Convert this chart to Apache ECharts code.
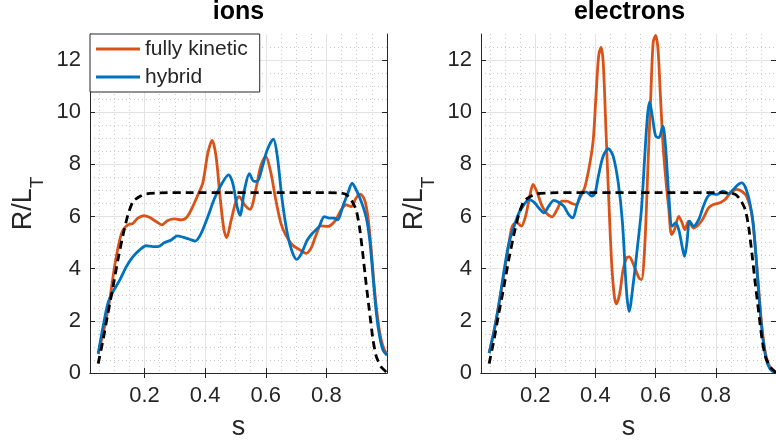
<!DOCTYPE html>
<html>
<head>
<meta charset="utf-8">
<script src="https://cdn.jsdelivr.net/npm/echarts@6/dist/echarts.min.js"></script>
<style>
  html, body { margin: 0; padding: 0; background: #ffffff; }
  #chart { width: 776px; height: 446px; }
</style>
</head>
<body>
<div id="chart"></div>
<script>
// R/L_T profiles along s: [s, R/L_T] pairs
const ionsKinetic = [
  [0.047,0.74],[0.068,1.77],[0.085,2.8],[0.101,4.08],[0.118,5.1],[0.129,5.49],[0.145,5.68],[0.162,5.74],
  [0.178,5.94],[0.198,6.03],[0.216,5.97],[0.238,5.81],[0.257,5.68],[0.277,5.85],[0.299,5.91],[0.321,5.87],
  [0.337,5.94],[0.354,6.26],[0.376,6.83],[0.392,7.28],[0.409,8.44],[0.423,8.92],[0.436,8.3],[0.449,6.77],
  [0.462,5.49],[0.471,5.19],[0.486,5.87],[0.502,6.6],[0.512,6.76],[0.53,6.45],[0.548,6.28],[0.567,7.03],
  [0.583,7.92],[0.6,8.31],[0.617,7.67],[0.633,6.64],[0.65,5.74],[0.666,5.29],[0.688,4.91],[0.71,4.74],
  [0.733,4.59],[0.749,4.78],[0.766,5.29],[0.782,5.64],[0.804,5.62],[0.827,5.81],[0.849,6.26],[0.865,6.45],
  [0.882,6.38],[0.898,6.71],[0.912,6.86],[0.926,6.64],[0.937,6.0],[0.948,4.72],[0.959,3.18],[0.970,2.03],
  [0.981,1.26],[0.992,0.87],[1.0,0.74]
];
const ionsHybrid = [
  [0.047,0.74],[0.063,1.77],[0.079,2.67],[0.096,3.12],[0.118,3.56],[0.14,4.08],[0.162,4.46],[0.184,4.72],
  [0.205,4.88],[0.227,4.85],[0.244,4.85],[0.266,5.0],[0.288,5.1],[0.308,5.26],[0.326,5.21],[0.348,5.13],
  [0.367,5.06],[0.387,5.36],[0.409,6.0],[0.431,6.7],[0.453,7.22],[0.477,7.6],[0.491,7.28],[0.505,6.4],
  [0.515,6.05],[0.53,7.03],[0.546,7.64],[0.561,7.35],[0.572,7.35],[0.589,7.92],[0.605,8.56],[0.625,8.97],
  [0.638,8.31],[0.654,6.64],[0.671,5.36],[0.687,4.65],[0.702,4.36],[0.718,4.59],[0.737,5.1],[0.754,5.36],
  [0.776,5.62],[0.793,6.0],[0.81,5.94],[0.826,5.94],[0.837,5.87],[0.854,6.38],[0.871,6.9],[0.885,7.28],
  [0.898,7.03],[0.915,6.58],[0.932,5.94],[0.943,5.1],[0.954,3.69],[0.965,2.28],[0.976,1.38],[0.987,0.87],
  [1.0,0.68]
];
const electronsKinetic = [
  [0.047,0.76],[0.064,1.65],[0.08,2.68],[0.097,3.83],[0.113,4.99],[0.124,5.63],[0.138,5.78],[0.154,5.63],
  [0.168,6.01],[0.182,6.78],[0.193,7.23],[0.207,6.91],[0.223,6.4],[0.24,6.1],[0.256,5.99],[0.273,6.27],
  [0.289,6.59],[0.305,6.59],[0.322,6.5],[0.336,6.46],[0.349,6.72],[0.366,7.17],[0.382,8.06],[0.393,8.96],
  [0.402,10.63],[0.411,12.17],[0.419,12.49],[0.426,11.91],[0.435,9.35],[0.444,6.78],[0.454,4.22],[0.463,2.94],
  [0.47,2.65],[0.481,3.06],[0.492,3.96],[0.503,4.4],[0.512,4.45],[0.529,4.09],[0.545,3.64],[0.553,3.58],
  [0.564,4.86],[0.575,8.06],[0.584,10.63],[0.592,12.68],[0.6,12.95],[0.608,12.42],[0.616,10.63],[0.625,8.7],
  [0.635,7.29],[0.644,6.27],[0.653,5.31],[0.663,5.5],[0.677,6.01],[0.688,5.76],[0.697,5.5],[0.71,5.82],
  [0.726,5.56],[0.743,5.69],[0.759,5.95],[0.776,6.33],[0.792,6.46],[0.814,6.53],[0.831,6.65],[0.847,6.88],
  [0.869,7.04],[0.886,6.97],[0.902,6.78],[0.919,6.14],[0.93,4.99],[0.941,3.45],[0.952,1.91],[0.963,0.88],
  [0.974,0.37],[0.987,0.12],[1.0,0.05]
];
const electronsHybrid = [
  [0.047,0.76],[0.064,1.65],[0.08,2.68],[0.097,3.96],[0.113,4.99],[0.13,5.63],[0.146,6.14],[0.163,6.46],
  [0.179,6.65],[0.196,6.55],[0.212,6.33],[0.229,6.14],[0.245,6.4],[0.262,6.62],[0.278,6.55],[0.295,6.4],
  [0.311,6.08],[0.325,5.95],[0.338,6.4],[0.355,6.91],[0.371,6.94],[0.388,6.78],[0.399,6.91],[0.41,7.55],
  [0.426,8.32],[0.443,8.6],[0.459,8.32],[0.476,7.29],[0.49,5.76],[0.503,3.19],[0.512,2.36],[0.526,3.45],
  [0.54,4.86],[0.553,6.27],[0.564,8.32],[0.573,9.86],[0.58,10.4],[0.589,9.86],[0.6,9.09],[0.611,9.03],
  [0.624,9.47],[0.633,8.7],[0.644,6.78],[0.655,5.63],[0.666,5.76],[0.677,5.5],[0.688,4.86],[0.696,4.47],
  [0.704,4.99],[0.713,5.82],[0.726,5.63],[0.743,5.88],[0.759,6.4],[0.773,6.76],[0.787,6.87],[0.803,6.85],
  [0.823,6.97],[0.842,6.88],[0.858,7.04],[0.875,7.23],[0.886,7.29],[0.899,7.1],[0.913,6.53],[0.924,5.76],
  [0.935,4.22],[0.946,2.55],[0.957,1.27],[0.968,0.5],[0.979,0.18],[0.99,0.05],[1.0,0.02]
];
// prescribed gradient profile (dashed)
const targetProfile = [
  [0.047,0.36],[0.063,1.26],[0.079,2.28],[0.096,3.3],[0.112,4.33],[0.129,5.29],[0.145,6.06],[0.162,6.58],
  [0.184,6.77],[0.205,6.87],[0.25,6.91],[0.35,6.92],[0.5,6.92],[0.65,6.92],[0.8,6.92],[0.85,6.9],
  [0.866,6.84],[0.882,6.64],[0.898,6.26],[0.909,5.62],[0.92,4.59],[0.931,3.44],[0.943,2.28],[0.954,1.26],
  [0.965,0.62],[0.981,0.23],[0.992,0.1],[1.0,0.0]
];

const panelTitles = ['ions', 'electrons'];
const seriesNames = ['fully kinetic', 'hybrid'];
const xTickValues = [0.2, 0.4, 0.6, 0.8];
const yTickValues = [0, 2, 4, 6, 8, 10, 12];
const xRange = [0.02, 1.0];
const yRange = [0, 13];

// minor grid positions: every 0.05 in s, every 0.5 in R/L_T, skipping major ticks
const xMinorValues = [];
for (let k = 1; k < 20; k++) { if (k % 4 !== 0) xMinorValues.push(+(k * 0.05).toFixed(2)); }
const yMinorValues = [];
for (let k = 1; k < 26; k++) { if (k % 4 !== 0) yMinorValues.push(k * 0.5); }

const FONT = '"Liberation Sans", Arial, Helvetica, sans-serif';
const INK = '#262626';
const COLORS = { kinetic: '#D95319', hybrid: '#0072BD', target: '#000000' };
const LINE_W = 2.8;

const panels = [
  { title: panelTitles[0], kinetic: ionsKinetic, hybrid: ionsHybrid },
  { title: panelTitles[1], kinetic: electronsKinetic, hybrid: electronsHybrid }
];
const gridBoxes = [
  { left: 90, top: 34, width: 297, height: 339 },
  { left: 481, top: 34, width: 297, height: 339 }
];

const grid = [], xAxis = [], yAxis = [], series = [], title = [];

panels.forEach((p, gi) => {
  grid.push(Object.assign({ containLabel: false }, gridBoxes[gi]));

  title.push({
    text: p.title,
    left: gridBoxes[gi].left + gridBoxes[gi].width / 2,
    top: 0,
    padding: 0,
    textAlign: 'center',
    textStyle: { fontFamily: FONT, fontSize: 25, fontWeight: 'bold', color: '#000' }
  });

  // minor dotted grid (s)
  xAxis.push({
    gridIndex: gi, type: 'value', position: 'bottom', min: xRange[0], max: xRange[1],
    axisLine: { show: false }, axisLabel: { show: false },
    axisTick: { show: false, customValues: xMinorValues },
    splitLine: { show: true, lineStyle: { color: '#c9c9c9', width: 1, type: [1, 3] } }
  });
  const xMain = xAxis.length;
  xAxis.push({
    gridIndex: gi, type: 'value', position: 'bottom', min: xRange[0], max: xRange[1],
    name: 's', nameLocation: 'middle', nameGap: 41,
    nameTextStyle: { fontFamily: FONT, fontSize: 27, color: INK },
    axisLine: { show: true, lineStyle: { color: INK, width: 1 } },
    axisTick: { show: true, inside: true, length: 5, customValues: xTickValues, lineStyle: { color: INK } },
    axisLabel: { customValues: xTickValues, margin: 12, fontFamily: FONT, fontSize: 22, color: INK,
                 formatter: v => v.toFixed(1) },
    splitLine: { show: true, lineStyle: { color: '#e3e3e3', width: 1 } }
  });
  xAxis.push({
    gridIndex: gi, type: 'value', position: 'top', min: xRange[0], max: xRange[1],
    axisLine: { show: true, lineStyle: { color: INK, width: 1 } },
    axisTick: { show: true, inside: true, length: 5, customValues: xTickValues, lineStyle: { color: INK } },
    axisLabel: { show: false }, splitLine: { show: false }
  });

  // minor dotted grid (R/L_T)
  yAxis.push({
    gridIndex: gi, type: 'value', position: 'left', min: yRange[0], max: yRange[1],
    axisLine: { show: false }, axisLabel: { show: false },
    axisTick: { show: false, customValues: yMinorValues },
    splitLine: { show: true, lineStyle: { color: '#c9c9c9', width: 1, type: [1, 3] } }
  });
  const yMain = yAxis.length;
  yAxis.push({
    gridIndex: gi, type: 'value', position: 'left', min: yRange[0], max: yRange[1],
    name: '{a|R/L}{b|T}', nameLocation: 'middle', nameGap: 43,
    nameTextStyle: {
      fontFamily: FONT, color: INK,
      rich: {
        a: { fontFamily: FONT, fontSize: 27, color: INK },
        b: { fontFamily: FONT, fontSize: 19, color: INK, padding: [28, 0, 0, 0] }
      }
    },
    axisLine: { show: true, lineStyle: { color: INK, width: 1 } },
    axisTick: { show: true, inside: true, length: 5, customValues: yTickValues, lineStyle: { color: INK } },
    axisLabel: { customValues: yTickValues, margin: 9, fontFamily: FONT, fontSize: 22, color: INK },
    splitLine: { show: true, lineStyle: { color: '#e3e3e3', width: 1 } }
  });
  yAxis.push({
    gridIndex: gi, type: 'value', position: 'right', min: yRange[0], max: yRange[1],
    axisLine: { show: true, lineStyle: { color: INK, width: 1 } },
    axisTick: { show: true, inside: true, length: 5, customValues: yTickValues, lineStyle: { color: INK } },
    axisLabel: { show: false }, splitLine: { show: false }
  });

  const common = {
    type: 'line', xAxisIndex: xMain, yAxisIndex: yMain,
    symbol: 'none', showSymbol: false, smooth: 0.3, animation: false, z: 3
  };
  series.push(Object.assign({}, common, {
    name: seriesNames[0], data: p.kinetic, color: COLORS.kinetic,
    lineStyle: { color: COLORS.kinetic, width: LINE_W }
  }));
  series.push(Object.assign({}, common, {
    name: seriesNames[1], data: p.hybrid, color: COLORS.hybrid,
    lineStyle: { color: COLORS.hybrid, width: LINE_W }
  }));
  series.push(Object.assign({}, common, {
    name: 'target', data: targetProfile, color: COLORS.target, smooth: 0.2,
    lineStyle: { color: COLORS.target, width: LINE_W, type: [8, 5] }
  }));
});

const chart = echarts.init(document.getElementById('chart'), null, { renderer: 'canvas' });
chart.setOption({
  backgroundColor: '#ffffff',
  animation: false,
  title: title,
  grid: grid,
  xAxis: xAxis,
  yAxis: yAxis,
  legend: {
    data: seriesNames,
    orient: 'vertical',
    left: 90, top: 34,
    padding: [4, 12, 4, 6],
    itemGap: 6,
    icon: 'rect',
    itemWidth: 44, itemHeight: 3,
    backgroundColor: '#ffffff',
    borderColor: INK, borderWidth: 1,
    textStyle: { fontFamily: FONT, fontSize: 21, color: INK, lineHeight: 22 },
    selectedMode: false
  },
  series: series
});
</script>
</body>
</html>
